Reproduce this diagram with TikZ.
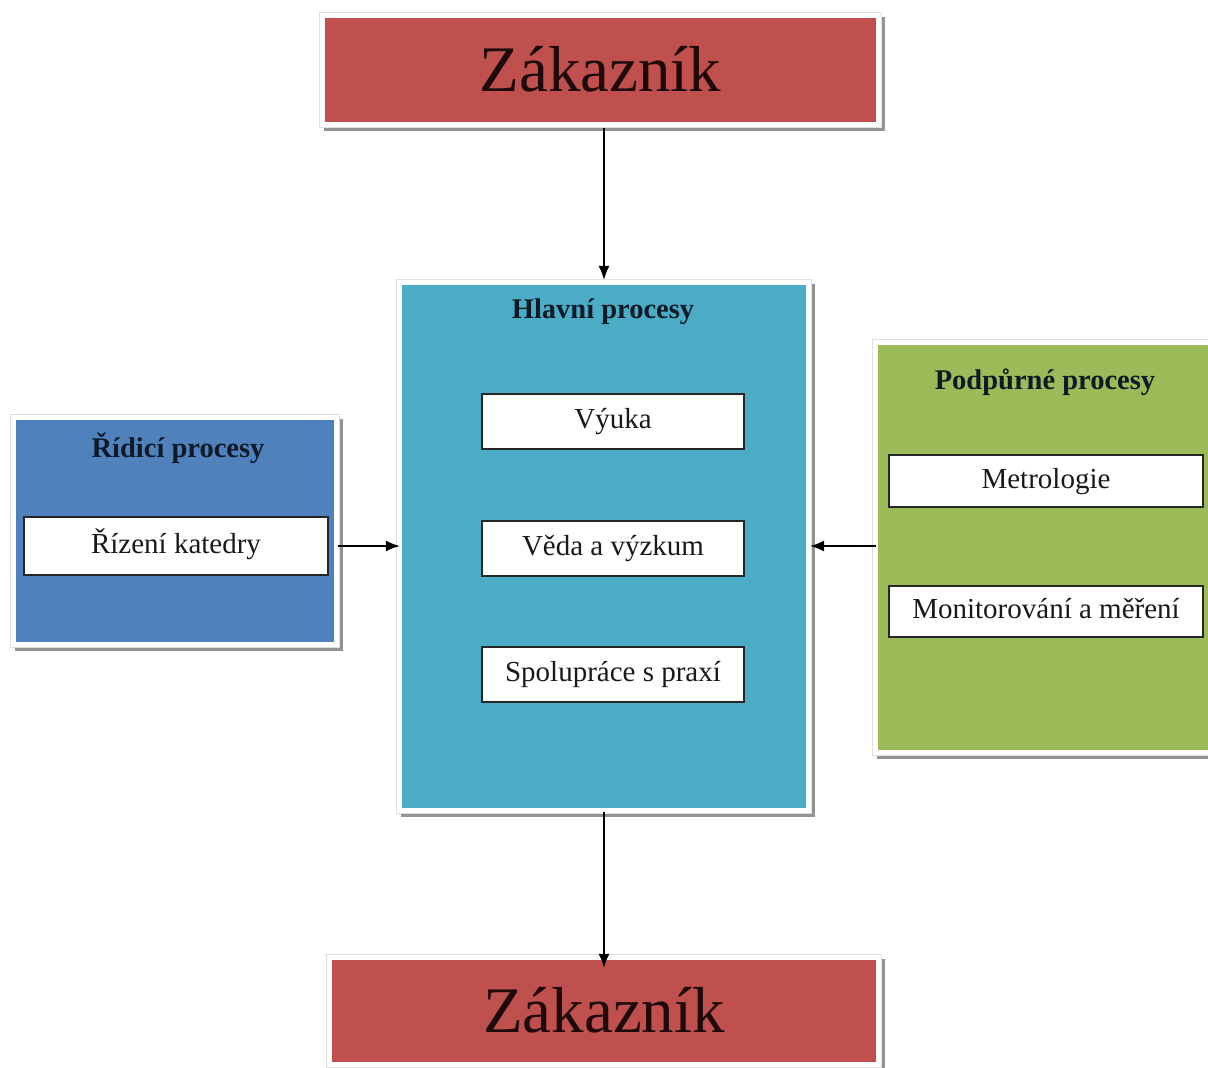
\documentclass[tikz,border=0pt]{standalone}
\usepackage{fontspec}
\setmainfont{Liberation Serif}
\usetikzlibrary{arrows.meta}

\definecolor{redbox}{HTML}{C0504D}
\definecolor{bluebox}{HTML}{4F81BD}
\definecolor{tealbox}{HTML}{4BACC6}
\definecolor{greenbox}{HTML}{9BBB59}
\definecolor{captext}{HTML}{1E0A0A}
\definecolor{titletext}{HTML}{0F1A26}

\tikzset{
  % coloured panel with a white frame and a grey drop shadow
  panel/.style={rectangle, fill=#1, draw=none, inner sep=0pt,
    preaction={fill=gray!85, draw=gray!85, line width=10pt,
      transform canvas={shift={(3.5pt,-3.5pt)}}},
    preaction={draw=gray!25, line width=12pt},
    preaction={draw=white, line width=10pt}},
  bigcap/.style={font=\fontsize{65}{65}\selectfont, text=captext,
    text height=43pt, text depth=0pt},
  paneltitle/.style={font=\fontsize{28.5}{28.5}\bfseries\selectfont, text=titletext,
    inner sep=0pt},
  item/.style={rectangle, fill=white, draw=black!85, line width=1.2pt,
    inner sep=0pt, font=\fontsize{29}{29}\selectfont, text=black!90,
    text height=20pt, text depth=6pt},
  flow/.style={line width=1.4pt, -{Latex[length=14pt,width=11pt]}}
}

\begin{document}
\begin{tikzpicture}[x=1pt,y=-1pt]
\useasboundingbox (0,0) rectangle (1208,1068);
\fill[white] (0,0) rectangle (1208,1068);

% customer (input)
\node[panel=redbox, bigcap, minimum width=551pt, minimum height=104pt]
  (top) at (600.5,70) {Zákazník};

% main processes
\node[panel=tealbox, minimum width=404pt, minimum height=523pt]
  (main) at (604,546.5) {};
\node[paneltitle] (maintitle) at (603,312) {Hlavní procesy};
\node[item, minimum width=262pt, minimum height=55pt] (vyuka) at (613,421.5) {Výuka};
\node[item, minimum width=262pt, minimum height=55pt] (veda) at (613,548.5) {Věda a výzkum};
\node[item, minimum width=262pt, minimum height=55pt] (praxe) at (613,674.5) {Spolupráce s praxí};

% management processes
\node[panel=bluebox, minimum width=318pt, minimum height=222pt]
  (left) at (175,531) {};
\node[paneltitle] (lefttitle) at (178,448) {Řídicí procesy};
\node[item, minimum width=304pt, minimum height=58pt] (rizeni) at (176,546) {Řízení katedry};

% support processes
\node[panel=greenbox, minimum width=337pt, minimum height=405pt]
  (right) at (1046.5,547.5) {};
\node[paneltitle] (righttitle) at (1045,382) {Podpůrné procesy};
\node[item, minimum width=314pt, minimum height=52pt] (metro) at (1046,481) {Metrologie};
\node[item, minimum width=314pt, minimum height=51pt] (monit) at (1046,611.5) {Monitorování a měření};

% customer (output)
\node[panel=redbox, bigcap, minimum width=544pt, minimum height=102pt]
  (bottom) at (604,1011) {Zákazník};

% connectors
\draw[flow, shorten <=6pt, shorten >=5pt] (top.south -| main.north) -- (main.north);
\draw[flow, shorten <=4pt, shorten >=2pt] (left.east |- rizeni.east) -- (main.west |- rizeni.east);
\draw[flow, shorten <=2pt, shorten >=4pt] (right.west |- rizeni.east) -- (main.east |- rizeni.east);
\draw[flow, shorten <=4pt, shorten >=-8pt] (main.south) -- (main.south |- bottom.north);
\end{tikzpicture}
\end{document}
